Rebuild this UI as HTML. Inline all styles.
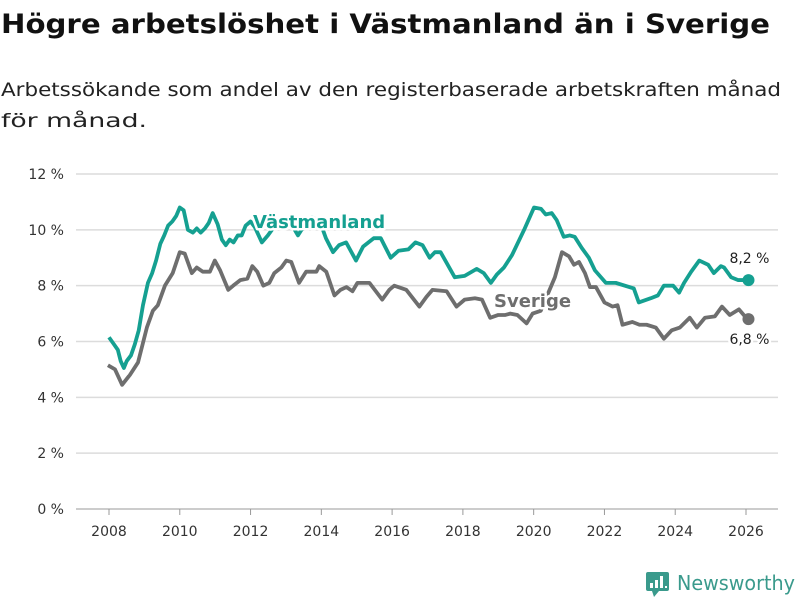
<!DOCTYPE html>
<html><head><meta charset="utf-8"><style>
body{margin:0;background:#fff;width:800px;height:600px;overflow:hidden}
svg{display:block;font-family:"DejaVu Sans","Liberation Sans",sans-serif}
</style></head><body>
<svg id="chart" width="800" height="600" viewBox="0 0 800 600" xmlns="http://www.w3.org/2000/svg">
<text x="1" y="33" font-size="27" font-weight="bold" fill="#111" textLength="769" lengthAdjust="spacingAndGlyphs">Högre arbetslöshet i Västmanland än i Sverige</text>
<text x="1" y="96" font-size="19" fill="#222" textLength="780" lengthAdjust="spacingAndGlyphs">Arbetssökande som andel av den registerbaserade arbetskraften månad</text>
<text x="1" y="127" font-size="19" fill="#222" textLength="146" lengthAdjust="spacingAndGlyphs">för månad.</text>
<g id="grid"></g>
<g id="yticks"></g>
<g id="xticks"></g>
<g id="series"></g>
<g>
<rect x="646" y="572" width="23" height="19" rx="2" fill="#3a9a8c"/>
<path d="M652 591 L654 597 L659 591 Z" fill="#3a9a8c"/>
<rect x="650" y="583" width="3" height="5" fill="#fff"/><rect x="655" y="580" width="3" height="8" fill="#fff"/><rect x="660" y="576" width="3" height="12" fill="#fff"/><rect x="665" y="586" width="2" height="2" fill="#fff"/>
<text x="677" y="590" font-size="20" fill="#3a9a8c" textLength="118" lengthAdjust="spacingAndGlyphs">Newsworthy</text>
</g>
</svg>
<script>
const yTicks=[0,2,4,6,8,10,12];
const xTicks=[2008,2010,2012,2014,2016,2018,2020,2022,2024,2026];
const vastDates=[2008.0,2008.14,2008.25,2008.33,2008.42,2008.5,2008.62,2008.73,2008.84,2008.96,2009.1,2009.22,2009.33,2009.45,2009.56,2009.67,2009.79,2009.9,2010.0,2010.11,2010.23,2010.37,2010.48,2010.59,2010.71,2010.82,2010.93,2011.07,2011.19,2011.3,2011.41,2011.52,2011.64,2011.75,2011.86,2012.0,2012.12,2012.32,2012.49,2012.69,2012.92,2013.11,2013.34,2013.54,2013.73,2013.96,2014.13,2014.33,2014.5,2014.7,2014.98,2015.18,2015.48,2015.68,2015.96,2016.18,2016.46,2016.66,2016.86,2017.06,2017.21,2017.37,2017.77,2018.05,2018.39,2018.59,2018.79,2018.96,2019.16,2019.39,2019.73,2020.01,2020.21,2020.34,2020.51,2020.65,2020.85,2021.02,2021.16,2021.36,2021.56,2021.73,2022.04,2022.18,2022.32,2022.83,2022.97,2023.31,2023.51,2023.68,2023.94,2024.11,2024.25,2024.45,2024.68,2024.93,2025.09,2025.29,2025.38,2025.58,2025.78,2026.07];
const vastValues=[6.15,5.9,5.7,5.3,5.05,5.3,5.5,5.9,6.4,7.3,8.1,8.45,8.9,9.5,9.8,10.15,10.3,10.5,10.8,10.7,10.0,9.9,10.05,9.9,10.05,10.25,10.6,10.2,9.65,9.45,9.65,9.55,9.8,9.8,10.15,10.3,10.1,9.55,9.8,10.15,10.35,10.3,9.8,10.2,10.45,10.3,9.7,9.2,9.45,9.55,8.9,9.4,9.7,9.7,9.0,9.25,9.3,9.55,9.45,9.0,9.2,9.2,8.3,8.35,8.6,8.45,8.1,8.4,8.65,9.1,10.0,10.8,10.75,10.55,10.6,10.35,9.75,9.8,9.75,9.35,9.0,8.55,8.1,8.1,8.1,7.9,7.4,7.55,7.65,8.0,8.0,7.75,8.1,8.5,8.9,8.75,8.45,8.7,8.65,8.3,8.2,8.2];
const sveDates=[2007.97,2008.17,2008.37,2008.59,2008.82,2009.07,2009.24,2009.38,2009.58,2009.8,2010.0,2010.14,2010.34,2010.48,2010.65,2010.85,2010.99,2011.14,2011.37,2011.51,2011.71,2011.91,2012.05,2012.19,2012.36,2012.53,2012.67,2012.87,2013.01,2013.15,2013.37,2013.57,2013.86,2013.94,2014.14,2014.37,2014.54,2014.71,2014.88,2015.02,2015.36,2015.72,2015.92,2016.06,2016.4,2016.77,2016.97,2017.14,2017.54,2017.82,2018.05,2018.34,2018.54,2018.77,2019.0,2019.2,2019.34,2019.54,2019.8,2019.97,2020.2,2020.6,2020.8,2021.0,2021.14,2021.28,2021.45,2021.59,2021.76,2022.0,2022.23,2022.37,2022.51,2022.79,2022.99,2023.19,2023.45,2023.68,2023.9,2024.13,2024.41,2024.61,2024.84,2025.12,2025.32,2025.54,2025.8,2025.97,2026.07];
const sveValues=[5.15,5.0,4.45,4.8,5.25,6.5,7.1,7.3,8.0,8.45,9.2,9.15,8.45,8.65,8.5,8.5,8.9,8.55,7.85,8.0,8.2,8.25,8.7,8.5,8.0,8.1,8.45,8.65,8.9,8.85,8.1,8.5,8.5,8.7,8.5,7.65,7.85,7.95,7.8,8.1,8.1,7.5,7.85,8.0,7.85,7.25,7.6,7.85,7.8,7.25,7.5,7.55,7.5,6.85,6.95,6.95,7.0,6.95,6.65,7.0,7.1,8.3,9.2,9.05,8.75,8.85,8.45,7.95,7.95,7.4,7.25,7.3,6.6,6.7,6.6,6.6,6.5,6.1,6.4,6.5,6.85,6.5,6.85,6.9,7.25,6.95,7.15,6.9,6.8];
const NS='http://www.w3.org/2000/svg';
const X=d=>109+(d-2008)*(746-109)/18;
const Y=v=>509-v*(509-174)/12;
function mk(tag,attrs,parent){const e=document.createElementNS(NS,tag);for(const k in attrs)e.setAttribute(k,attrs[k]);parent.appendChild(e);return e;}
const grid=document.getElementById('grid'),yt=document.getElementById('yticks'),xt=document.getElementById('xticks'),ser=document.getElementById('series');
yTicks.forEach(v=>{
 const l=mk('line',{x1:76,x2:778,y1:Y(v),y2:Y(v),stroke:v===0?'#bbb':'#dcdcdc','stroke-width':1.5},grid);
 
 
 const t=mk('text',{x:64,y:Y(v)+5,'font-size':14,fill:'#333','text-anchor':'end'},yt);
 t.textContent=v+' %';
 
 
});
xTicks.forEach(d=>{
 const l=mk('line',{x1:X(d),x2:X(d),y1:509,y2:515,stroke:'#999','stroke-width':1},xt);
 
 
 const t=mk('text',{x:X(d),y:536,'font-size':14,fill:'#333','text-anchor':'middle'},xt);
 t.textContent=d;
 
 
});
function line(dates,vals,color,name){
 const p=mk('polyline',{points:dates.map((d,i)=>X(d)+','+Y(vals[i])).join(' '),fill:'none',stroke:color,'stroke-width':3.8,'stroke-linejoin':'round'},ser);
 
 
 const n=dates.length-1;
 const c=mk('circle',{cx:X(dates[n]),cy:Y(vals[n]),r:6,fill:color},ser);
 
 
 return [X(dates[n]),Y(vals[n])];
}
const pS=line(sveDates,sveValues,'#6e6e6e','sverige');
const pV=line(vastDates,vastValues,'#15a091','vastmanland');
function lbl(x,y,txt,col,name,bold,size,anchor){
 const t=mk('text',{x:x,y:y,'font-size':size,fill:col,'font-weight':bold?'bold':'normal',stroke:'#fff','stroke-width':5,'paint-order':'stroke','stroke-linejoin':'round','text-anchor':anchor||'start'},ser);
 t.textContent=txt;
 
 
}
lbl(253,228,'Västmanland','#15a091','vastmanland-label',true,18);
lbl(494,307,'Sverige','#6e6e6e','sverige-label',true,18);
lbl(pV[0]+21,pV[1]-17,vastValues[vastValues.length-1].toFixed(1).replace('.',',')+' %','#222','vastmanland-end-value',false,14,'end');
lbl(pS[0]+21,pS[1]+25,sveValues[sveValues.length-1].toFixed(1).replace('.',',')+' %','#222','sverige-end-value',false,14,'end');
</script>
</body></html>
